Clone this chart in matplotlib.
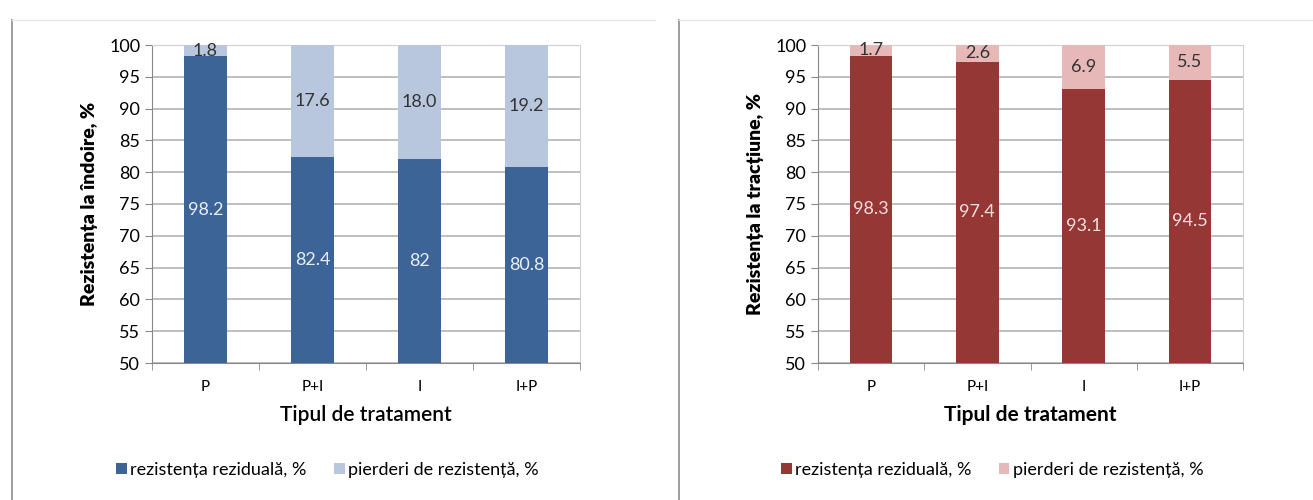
import matplotlib
matplotlib.use("Agg")
import matplotlib.pyplot as plt
import numpy as np
from matplotlib.lines import Line2D

plt.rcParams['font.family'] = ['Lato', 'DejaVu Sans']

# date
tratamente = ['P', 'P+I', 'I', 'I+P']
indoire_rez = [98.2, 82.4, 82, 80.8]
indoire_pierd = [1.8, 17.6, 18.0, 19.2]
indoire_rez_lbl = ['98.2', '82.4', '82', '80.8']
indoire_pierd_lbl = ['1.8', '17.6', '18.0', '19.2']

tractiune_rez = [98.3, 97.4, 93.1, 94.5]
tractiune_pierd = [1.7, 2.6, 6.9, 5.5]
tractiune_rez_lbl = ['98.3', '97.4', '93.1', '94.5']
tractiune_pierd_lbl = ['1.7', '2.6', '6.9', '5.5']

ind = np.arange(len(tratamente))
width = 0.4
baza = 50

fig = plt.figure(figsize=(13.13, 5), dpi=100)

# rame in jurul graficelor
for x0 in (12 / 1313, 679 / 1313):
    fig.add_artist(Line2D([x0, x0], [0, 0.96], color='#8c8c8c', lw=1.2))
    fig.add_artist(Line2D([x0, x0 + 0.49], [0.96, 0.96], color='#e8e8e8', lw=1))


def grafic(ax, rez, pierd, rez_lbl, pierd_lbl, c_rez, c_pierd, c_txt, ylabel, xl_weight):
    rez = np.array(rez)
    ax.bar(ind, rez - baza, width, bottom=baza, color=c_rez, zorder=3,
           label='rezistența reziduală, %')
    ax.bar(ind, pierd, width, bottom=rez, color=c_pierd, zorder=3,
           label='pierderi de rezistență, %')
    for i in ind:
        ax.text(i, (baza + rez[i]) / 2, rez_lbl[i], ha='center', va='center',
                color=c_txt, fontsize=13, zorder=4)
        ax.text(i, rez[i] + pierd[i] / 2, pierd_lbl[i], ha='center', va='center',
                color='#333333', fontsize=13, zorder=4)
    ax.set_ylim(50, 100)
    ax.set_xlim(-0.5, 3.5)
    ax.set_yticks(np.arange(50, 101, 5))
    ax.set_xticks(ind)
    ax.set_xticklabels(tratamente)
    ax.set_xticks(np.arange(-0.5, 3.6, 1), minor=True)
    ax.tick_params(axis='x', which='major', length=0, pad=12, labelsize=11)
    ax.tick_params(axis='x', which='minor', length=5, color='#888888')
    ax.tick_params(axis='y', length=5, color='#888888', labelsize=13)
    ax.grid(axis='y', color='#b4b4b4', lw=1.2, zorder=0)
    for s in ax.spines.values():
        s.set_color('#d0d0d0')
    ax.spines['left'].set_color('#888888')
    ax.spines['bottom'].set_color('#888888')
    ax.set_ylabel(ylabel, fontsize=14, fontweight='heavy', labelpad=8)
    ax.set_xlabel('Tipul de tratament', fontsize=15, fontweight=xl_weight, labelpad=8)
    ax.legend(loc='upper center', bbox_to_anchor=(0.41, -0.26), ncol=2, frameon=False,
              fontsize=13, handlelength=0.6, handleheight=0.6, handletextpad=0.2,
              columnspacing=1.5)


ax1 = fig.add_axes([152 / 1313, 0.274, 428 / 1313, 0.636])
grafic(ax1, indoire_rez, indoire_pierd, indoire_rez_lbl, indoire_pierd_lbl,
       '#3c6496', '#b9c7de', '#e8eef8', 'Rezistența la îndoire, %', 'semibold')

ax2 = fig.add_axes([818 / 1313, 0.274, 425 / 1313, 0.636])
grafic(ax2, tractiune_rez, tractiune_pierd, tractiune_rez_lbl, tractiune_pierd_lbl,
       '#953735', '#e6b9b8', '#f6dede', 'Rezistența la tracțiune, %', 'bold')

fig.savefig('out.png', dpi=100)
